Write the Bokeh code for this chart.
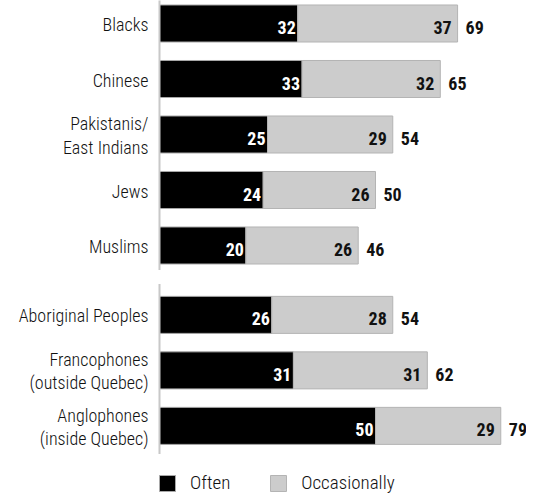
from bokeh.plotting import figure
from bokeh.models import ColumnDataSource, Range1d, Legend, LegendItem
from bokeh.core.properties import value
from bokeh.embed import file_html
from bokeh.resources import INLINE

categories = ["Blacks", "Chinese", "Pakistanis/\nEast Indians", "Jews", "Muslims",
              "Aboriginal Peoples", "Francophones\n(outside Quebec)", "Anglophones\n(inside Quebec)"]
often = [32, 33, 25, 24, 20, 26, 31, 50]
occasionally = [37, 32, 29, 26, 26, 28, 31, 29]
group = [0, 0, 0, 0, 0, 1, 1, 1]

FONT = "Roboto Condensed, Roboto, sans-serif"
FONT_LIGHT = "Roboto Condensed Light, Roboto Condensed, Roboto, sans-serif"
GAP = 0.25
ypos = [i + GAP * g for i, g in enumerate(group)]
total = [a + b for a, b in zip(often, occasionally)]

src = ColumnDataSource(dict(
    y=ypos, cat=categories, often=often, occ=occasionally, total=total,
    often_lbl=[str(v) for v in often], occ_lbl=[str(v) for v in occasionally],
    total_lbl=[str(v) for v in total], zero=[0] * len(often),
))

W, H = 526, 494
x0_px = 159.0
xs = 4.32
top_px = 23.0
ys = 55.5

p = figure(width=W, height=H, output_backend="svg", toolbar_location=None,
           x_range=Range1d(-x0_px / xs, (W - x0_px) / xs),
           y_range=Range1d((H - top_px) / ys, -top_px / ys),
           min_border=0, outline_line_color=None)
p.axis.visible = False
p.grid.visible = False

BH = 0.667
r1 = p.hbar(y="y", left="zero", right="often", height=BH, source=src,
            fill_color="#000000", line_color="#a8a8a8", line_width=1)
r2 = p.hbar(y="y", left="often", right="total", height=BH, source=src,
            fill_color="#cccccc", line_color="#b4b4b4", line_width=1)

# axis line segments (two groups)
p.segment(x0=[0, 0], y0=[-0.6, 5.25 - 0.556], x1=[0, 0], y1=[4 + 0.44, 7.25 + 0.507],
          line_color="#c8c8c8", line_width=2)

# category labels
p.text(x=0, y="y", text="cat", source=src, x_offset=-11, y_offset=1,
       text_align="right", text_baseline="middle", text_font=value(FONT_LIGHT),
       text_font_size="18px", text_color="#111111", text_line_height=1.1)

# value labels
p.text(x="often", y="y", text="often_lbl", source=src, x_offset=-2, y_offset=4,
       text_align="right", text_baseline="middle", text_font=value(FONT),
       text_font_size="18px", text_font_style="bold", text_color="#ffffff")
p.text(x="total", y="y", text="occ_lbl", source=src, x_offset=-6, y_offset=4,
       text_align="right", text_baseline="middle", text_font=value(FONT),
       text_font_size="18px", text_font_style="bold", text_color="#111111")
p.text(x="total", y="y", text="total_lbl", source=src, x_offset=8, y_offset=4,
       text_align="left", text_baseline="middle", text_font=value(FONT),
       text_font_size="18px", text_font_style="bold", text_color="#111111")

legend = Legend(items=[LegendItem(label="Often", renderers=[r1]),
                       LegendItem(label="Occasionally", renderers=[r2])],
                orientation="horizontal", location=(157, 0),
                glyph_width=20, glyph_height=20, label_height=20,
                label_standoff=13, spacing=38, padding=0, margin=0,
                border_line_alpha=0, background_fill_alpha=0,
                label_text_font=FONT_LIGHT, label_text_font_size="19px",
                label_text_color="#111111")
p.add_layout(legend)

open("out.html", "w").write(file_html(p, INLINE))
